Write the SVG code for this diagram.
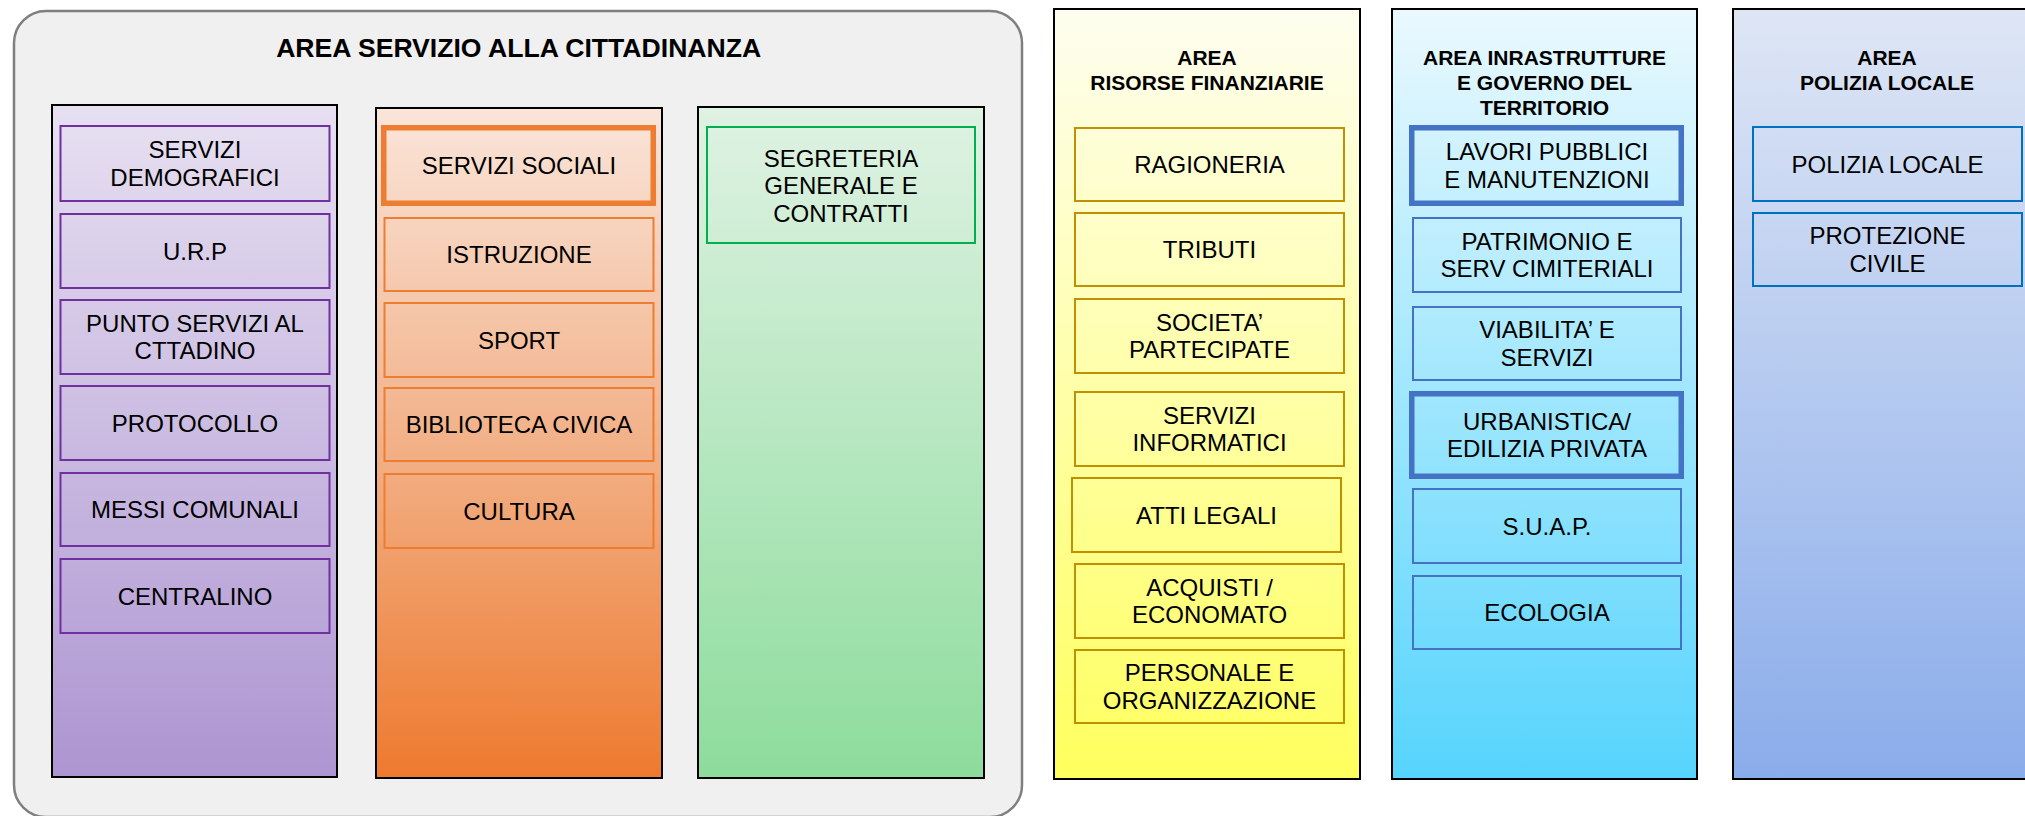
<svg xmlns="http://www.w3.org/2000/svg" width="2025" height="816" viewBox="0 0 2025 816">
<defs>
<linearGradient id="gPurple" x1="0" y1="0" x2="0" y2="1"><stop offset="0" stop-color="#e7e0f1"/><stop offset="1" stop-color="#ad95d1"/></linearGradient>
<linearGradient id="gOrange" x1="0" y1="0" x2="0" y2="1"><stop offset="0" stop-color="#fae5da"/><stop offset="0.5" stop-color="#f2b188"/><stop offset="1" stop-color="#ee7a2e"/></linearGradient>
<linearGradient id="gGreen" x1="0" y1="0" x2="0" y2="1"><stop offset="0" stop-color="#dff2e3"/><stop offset="1" stop-color="#8ddc9c"/></linearGradient>
<linearGradient id="gYellow" x1="0" y1="0" x2="0" y2="1"><stop offset="0" stop-color="#fefef0"/><stop offset="1" stop-color="#ffff5e"/></linearGradient>
<linearGradient id="gCyan" x1="0" y1="0" x2="0" y2="1"><stop offset="0" stop-color="#eaf9fe"/><stop offset="1" stop-color="#56d4fd"/></linearGradient>
<linearGradient id="gBlue" x1="0" y1="0" x2="0" y2="1"><stop offset="0" stop-color="#dee6f5"/><stop offset="1" stop-color="#8aacea"/></linearGradient>
</defs>
<style>
text{font-family:"Liberation Sans",Arial,sans-serif;fill:#000;text-anchor:middle}
.t{font-size:24px}
.h{font-size:21px;font-weight:bold}
.main{font-size:26.6px;font-weight:bold}
.col{stroke:#000;stroke-width:2}
.box{fill:none;stroke-width:2}
.thick{fill:none;stroke-width:5.5}
.pu{stroke:#7030a0}
.or{stroke:#ed7d31}
.gr{stroke:#00b050}
.ye{stroke:#bf9000}
.bl{stroke:#4472c4}
.pl{stroke:#0070c0}
</style>
<rect width="2025" height="816" fill="#ffffff"/>

<g id="area-cittadinanza">
<rect x="14" y="11" width="1008" height="806" rx="32" ry="32" fill="#f0f0f0" stroke="#7f7f7f" stroke-width="2.5"/>
<text class="main" x="518.7" y="57.3">AREA SERVIZIO ALLA CITTADINANZA</text>
</g>

<g id="col-demografici">
<rect class="col" x="52" y="105" width="285" height="672" fill="url(#gPurple)"/>
<g id="servizi-demografici"><rect class="box pu" x="60.5" y="126" width="269" height="75"/><text class="t" x="195" y="158.3">SERVIZI</text><text class="t" x="195" y="186">DEMOGRAFICI</text></g>
<g id="urp"><rect class="box pu" x="60.5" y="214" width="269" height="74"/><text class="t" x="195" y="259.6">U.R.P</text></g>
<g id="punto-servizi"><rect class="box pu" x="60.5" y="300" width="269" height="74"/><text class="t" x="195" y="331.8">PUNTO SERVIZI AL</text><text class="t" x="195" y="359.4">CTTADINO</text></g>
<g id="protocollo"><rect class="box pu" x="60.5" y="386" width="269" height="74"/><text class="t" x="195" y="431.6">PROTOCOLLO</text></g>
<g id="messi-comunali"><rect class="box pu" x="60.5" y="473" width="269" height="73"/><text class="t" x="195" y="518">MESSI COMUNALI</text></g>
<g id="centralino"><rect class="box pu" x="60.5" y="559" width="269" height="74"/><text class="t" x="195" y="604.6">CENTRALINO</text></g>
</g>

<g id="col-sociali">
<rect class="col" x="376" y="108" width="286" height="670" fill="url(#gOrange)"/>
<g id="servizi-sociali"><rect class="thick or" x="383.75" y="127.75" width="269.5" height="75.5"/><text class="t" x="519" y="174">SERVIZI SOCIALI</text></g>
<g id="istruzione"><rect class="box or" x="384.5" y="218" width="269" height="73"/><text class="t" x="519" y="263">ISTRUZIONE</text></g>
<g id="sport"><rect class="box or" x="384.5" y="303" width="269" height="74"/><text class="t" x="519" y="348.6">SPORT</text></g>
<g id="biblioteca"><rect class="box or" x="384.5" y="388" width="269" height="73"/><text class="t" x="519" y="433">BIBLIOTECA CIVICA</text></g>
<g id="cultura"><rect class="box or" x="384.5" y="474" width="269" height="74"/><text class="t" x="519" y="519.6">CULTURA</text></g>
</g>

<g id="col-segreteria">
<rect class="col" x="698" y="107" width="286" height="671" fill="url(#gGreen)"/>
<g id="segreteria"><rect class="box gr" x="707" y="127" width="268" height="116"/><text class="t" x="841" y="166.6">SEGRETERIA</text><text class="t" x="841" y="194.2">GENERALE E</text><text class="t" x="841" y="221.8">CONTRATTI</text></g>
</g>

<g id="area-finanziarie">
<rect class="col" x="1054" y="9" width="306" height="770" fill="url(#gYellow)"/>
<text class="h" x="1207" y="64.5">AREA</text>
<text class="h" x="1207" y="89.5">RISORSE FINANZIARIE</text>
<g id="ragioneria"><rect class="box ye" x="1075" y="128" width="269" height="73"/><text class="t" x="1209.5" y="173">RAGIONERIA</text></g>
<g id="tributi"><rect class="box ye" x="1075" y="213" width="269" height="73"/><text class="t" x="1209.5" y="258">TRIBUTI</text></g>
<g id="societa"><rect class="box ye" x="1075" y="299" width="269" height="74"/><text class="t" x="1209.5" y="330.8">SOCIETA’</text><text class="t" x="1209.5" y="358.4">PARTECIPATE</text></g>
<g id="servizi-informatici"><rect class="box ye" x="1075" y="392" width="269" height="74"/><text class="t" x="1209.5" y="423.8">SERVIZI</text><text class="t" x="1209.5" y="451.4">INFORMATICI</text></g>
<g id="atti-legali"><rect class="box ye" x="1072" y="478" width="269" height="74"/><text class="t" x="1206.5" y="523.6">ATTI LEGALI</text></g>
<g id="acquisti"><rect class="box ye" x="1075" y="564" width="269" height="74"/><text class="t" x="1209.5" y="595.8">ACQUISTI /</text><text class="t" x="1209.5" y="623.4">ECONOMATO</text></g>
<g id="personale"><rect class="box ye" x="1075" y="650" width="269" height="73"/><text class="t" x="1209.5" y="681.3">PERSONALE E</text><text class="t" x="1209.5" y="708.9">ORGANIZZAZIONE</text></g>
</g>

<g id="area-infrastrutture">
<rect class="col" x="1392" y="9" width="305" height="770" fill="url(#gCyan)"/>
<text class="h" x="1544.5" y="64.5">AREA INRASTRUTTURE</text>
<text class="h" x="1544.5" y="89.5">E GOVERNO DEL</text>
<text class="h" x="1544.5" y="114.5">TERRITORIO</text>
<g id="lavori-pubblici"><rect class="thick bl" x="1411.75" y="127.75" width="269.5" height="75.5"/><text class="t" x="1547" y="160.3">LAVORI PUBBLICI</text><text class="t" x="1547" y="187.9">E MANUTENZIONI</text></g>
<g id="patrimonio"><rect class="box bl" x="1413" y="218" width="268" height="74"/><text class="t" x="1547" y="249.8">PATRIMONIO E</text><text class="t" x="1547" y="277.4">SERV CIMITERIALI</text></g>
<g id="viabilita"><rect class="box bl" x="1413" y="307" width="268" height="73"/><text class="t" x="1547" y="338.3">VIABILITA’ E</text><text class="t" x="1547" y="365.9">SERVIZI</text></g>
<g id="urbanistica"><rect class="thick bl" x="1411.75" y="393.75" width="269.5" height="82.5"/><text class="t" x="1547" y="429.8">URBANISTICA/</text><text class="t" x="1547" y="457.4">EDILIZIA PRIVATA</text></g>
<g id="suap"><rect class="box bl" x="1413" y="489" width="268" height="74"/><text class="t" x="1547" y="534.6">S.U.A.P.</text></g>
<g id="ecologia"><rect class="box bl" x="1413" y="576" width="268" height="73"/><text class="t" x="1547" y="621">ECOLOGIA</text></g>
</g>

<g id="area-polizia">
<rect class="col" x="1733" y="9" width="310" height="770" fill="url(#gBlue)"/>
<text class="h" x="1887" y="64.5">AREA</text>
<text class="h" x="1887" y="89.5">POLIZIA LOCALE</text>
<g id="polizia-locale"><rect class="box pl" x="1753" y="127" width="269" height="74"/><text class="t" x="1887.5" y="172.6">POLIZIA LOCALE</text></g>
<g id="protezione-civile"><rect class="box pl" x="1753" y="213" width="269" height="73"/><text class="t" x="1887.5" y="244.3">PROTEZIONE</text><text class="t" x="1887.5" y="271.9">CIVILE</text></g>
</g>

<g id="connectors"/>
</svg>
